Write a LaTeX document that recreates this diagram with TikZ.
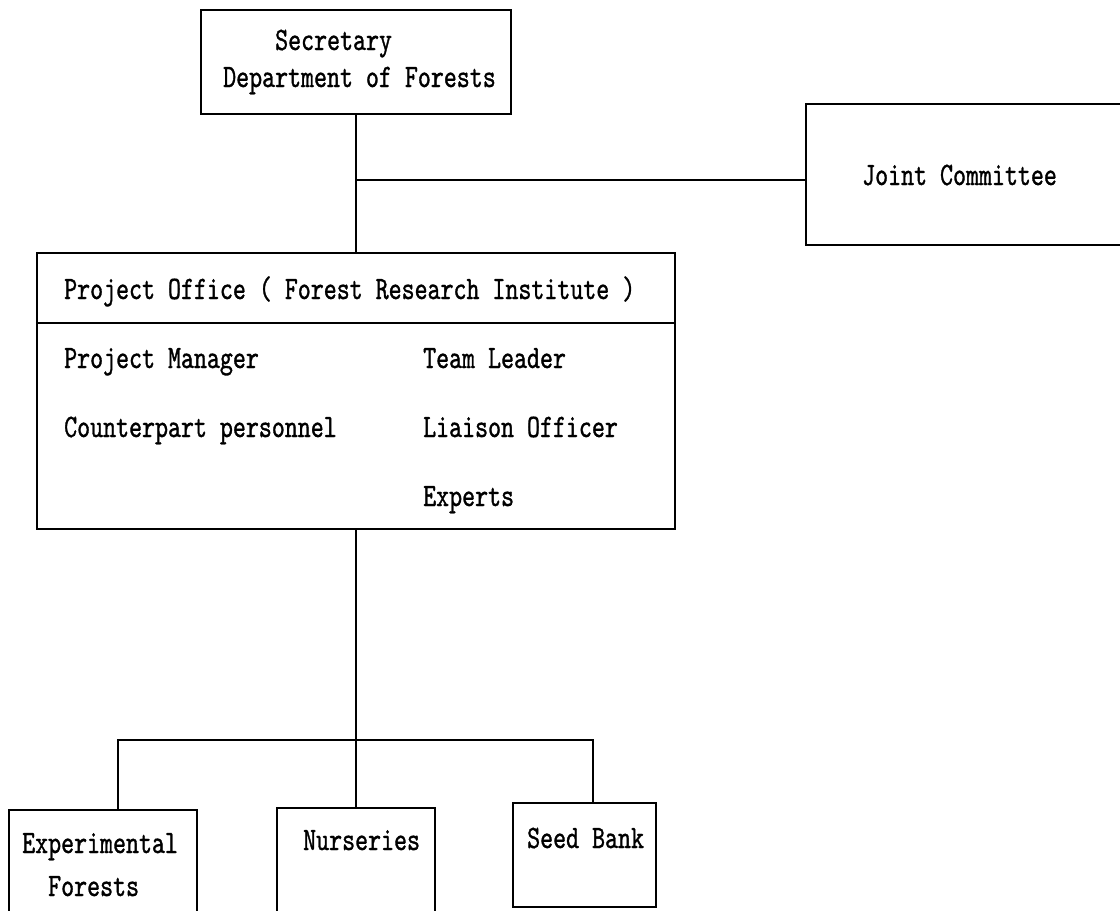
\documentclass[tikz,border=0pt]{standalone}
\usepackage{fontspec}
\newfontfamily\tw{lmmono10-regular.otf}[FakeStretch=0.756,FakeBold=1]
\begin{document}
\begin{tikzpicture}[x=1pt,y=-1pt,
  box/.style={draw,line width=2.4pt,rectangle,inner sep=0pt},
  link/.style={line width=2.2pt},
  txt/.style={anchor=base west,inner sep=0pt,font=\tw\fontsize{32.7}{36}\selectfont}]
\useasboundingbox (0,0) rectangle (1120,911);
\fill[white] (0,0) rectangle (1120,911);
% boxes
\node[box,minimum width=310pt,minimum height=104pt] (sec) at (356,62) {};
\node[box,minimum width=329pt,minimum height=141pt] (joint) at (970.5,174.5) {};
\node[box,minimum width=638pt,minimum height=276pt] (po) at (356,391) {};
\node[box,minimum width=188pt,minimum height=130pt] (exp) at (103,875) {};
\node[box,minimum width=158pt,minimum height=132pt] (nur) at (356,874) {};
\node[box,minimum width=143pt,minimum height=104pt] (seed) at (584.5,855) {};
\coordinate (dv) at (0,323);
\draw[line width=2.2pt] (po.west |- dv) -- (po.east |- dv);
% texts
\node[txt] (t1) at (275,50) {Secretary};
\node[txt] (t2) at (223,87) {Department of Forests};
\node[txt] (t3) at (862,185) {Joint Committee};
\node[txt] (t4) at (64,299) {Project Office ( Forest Research Institute )};
\node[txt] (t5) at (64,368) {Project Manager};
\node[txt] (t6) at (64,437) {Counterpart personnel};
\node[txt] (t7) at (423,368) {Team Leader};
\node[txt] (t8) at (423,437) {Liaison Officer};
\node[txt] (t9) at (423,506) {Experts};
\node[txt] (t10) at (22,853) {Experimental};
\node[txt] (t11) at (48,896) {Forests};
\node[txt] (t12) at (303,850) {Nurseries};
\node[txt] (t13) at (527,848) {Seed Bank};
% connectors
\draw[link] (sec.south) -- (po.north);
\coordinate (jj) at (356,180);
\draw[link] (jj) -- (jj -| joint.west);
\draw[link] (po.south) -- (nur.north);
\coordinate (bl) at (118,740);
\coordinate (br) at (593,740);
\draw[link] (bl |- exp.north) -- (bl) -- (br) -- (br |- seed.north);
\end{tikzpicture}
\end{document}
